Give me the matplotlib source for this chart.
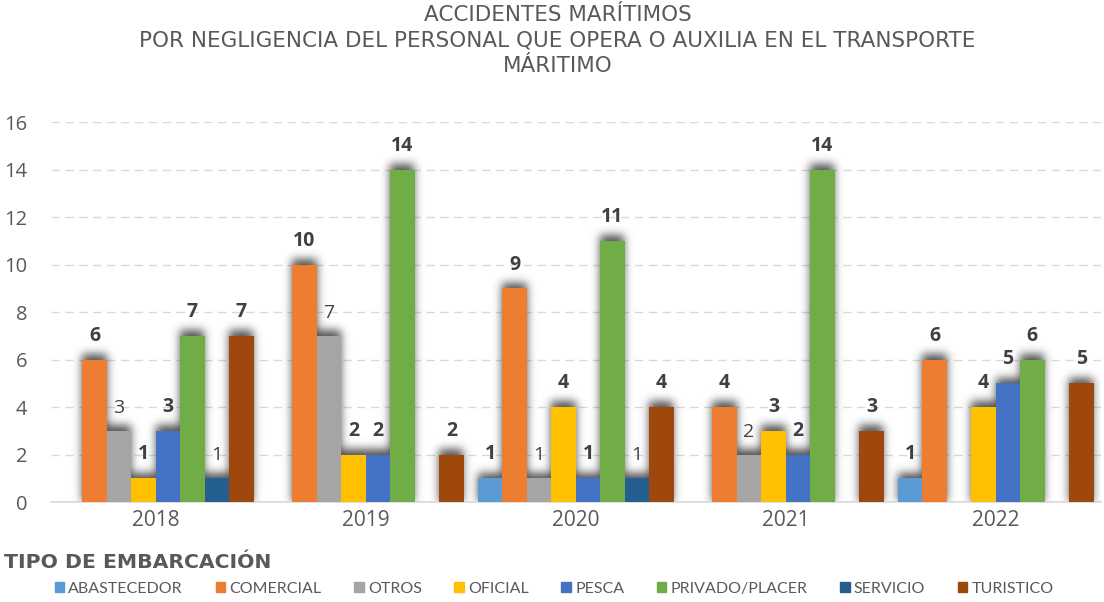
"""Accidentes marítimos por negligencia del personal — Output: out.png"""

import numpy as np, matplotlib.pyplot as plt
from matplotlib.patches import Patch

YEARS = ['2018', '2019', '2020', '2021', '2022']
TIPOS = ['ABASTECEDOR', 'COMERCIAL', 'OTROS', 'OFICIAL', 'PESCA', 'PRIVADO/PLACER', 'SERVICIO', 'TURISTICO']
COLORS = ['#5B9BD5', '#ED7D31', '#A5A5A5', '#FFC000', '#4472C4', '#70AD47', '#255E91', '#9E480E']

abastecedor = [0, 0, 1, 0, 1]
comercial   = [6, 10, 9, 4, 6]
otros       = [3, 7, 1, 2, 0]
oficial     = [1, 2, 4, 3, 4]
pesca       = [3, 2, 1, 2, 5]
privado     = [7, 14, 11, 14, 6]
servicio    = [1, 0, 1, 0, 0]
turistico   = [7, 2, 4, 3, 5]
SERIES = [abastecedor, comercial, otros, oficial, pesca, privado, servicio, turistico]
BOLD_LABEL = [True, True, False, True, True, True, False, True]

TXT = '#404040'
W_PX, H_PX = 1104, 602
fig = plt.figure(figsize=(W_PX/100, H_PX/100), dpi=100)
ax = fig.add_axes([0.046, 0.166, 0.951, 0.631])
YMAX = 16; XMIN, XMAX = -0.5, len(YEARS) - 0.5

# shadow mask in axes pixel space (rows from bottom)
aw, ah = int(round(0.951*W_PX)), int(round(0.631*H_PX))
pad = 30
mask = np.zeros((ah + 2*pad, aw + 2*pad))

x = np.arange(len(YEARS)); n = len(TIPOS); gw = 0.933; bw = gw / n
for i, (vals, col) in enumerate(zip(SERIES, COLORS)):
    xs = x - gw/2 + bw*(i + 0.5)
    v = np.array(vals, dtype=float)
    vis = v > 0
    bars = ax.bar(xs[vis], v[vis], bw, color=col, lw=0, zorder=3)
    for b, val in zip(bars, v[vis]):
        x0 = (b.get_x() - XMIN) / (XMAX - XMIN) * aw
        x1 = (b.get_x() + b.get_width() - XMIN) / (XMAX - XMIN) * aw
        y1 = val / YMAX * ah
        mask[pad:pad + int(y1) + 6, pad + int(x0):pad + int(x1)] = 1
        ax.annotate(f'{int(val)}', (b.get_x() + b.get_width()/2, val), xytext=(0, 10),
                    textcoords='offset points', ha='center', va='bottom', fontsize=14,
                    fontweight='bold' if BOLD_LABEL[i] else 'normal', color=TXT,
                    family='Open Sans', zorder=4)

# gaussian blur of the mask -> soft shadow
sig = 4.5
t = np.arange(-15, 16)
ker = np.exp(-t**2 / (2*sig**2)); ker /= ker.sum()
blur = np.apply_along_axis(lambda r: np.convolve(r, ker, mode='same'), 1, mask)
blur = np.apply_along_axis(lambda c: np.convolve(c, ker, mode='same'), 0, blur)
blur = blur[pad:pad + ah, pad:pad + aw]
rgba = np.zeros((ah, aw, 4)); rgba[..., :3] = 0.2; rgba[..., 3] = 0.85 * blur
ax.imshow(rgba, origin='lower', extent=(XMIN, XMAX, 0, YMAX), aspect='auto', zorder=2,
          interpolation='bilinear')

ax.set_xlim(XMIN, XMAX); ax.set_ylim(0, YMAX)
ax.set_yticks(range(0, 17, 2))
ax.set_xticks(x); ax.set_xticklabels(YEARS)
ax.tick_params(length=0, labelcolor='#595959')
ax.tick_params(axis='x', labelsize=15, pad=6)
ax.tick_params(axis='y', labelsize=14.5, pad=17)
for lab in ax.get_xticklabels() + ax.get_yticklabels():
    lab.set_family('Open Sans')
ax.grid(axis='y', color='#D9D9D9', ls=(0, (6, 4)), lw=1, zorder=0)
ax.set_axisbelow(True)
for s in ['top', 'right', 'left']:
    ax.spines[s].set_visible(False)
ax.spines['bottom'].set_color('#D9D9D9'); ax.spines['bottom'].set_linewidth(1.2)

fig.text(0.505, 0.992, 'ACCIDENTES MARÍTIMOS\nPOR NEGLIGENCIA DEL PERSONAL QUE OPERA O AUXILIA EN EL TRANSPORTE\nMÁRITIMO',
         ha='center', va='top', fontsize=15.5, color='#595959', family='DejaVu Sans',
         linespacing=1.34)
fig.text(0.004, 0.065, 'TIPO DE EMBARCACIÓN', ha='left', va='center', fontsize=14.7,
         fontweight='bold', color='#595959', family='DejaVu Sans')

handles = [Patch(color=c, label=t) for c, t in zip(COLORS, TIPOS)]
leg = fig.legend(handles=handles, loc='center', bbox_to_anchor=(0.502, 0.022), ncol=8, frameon=False,
                 handlelength=0.6, handleheight=0.6, handletextpad=0.25, columnspacing=2.05,
                 prop={'family': 'Lato', 'size': 11.5})
for t in leg.get_texts():
    t.set_color('#595959')

fig.savefig('out.png', dpi=100)
